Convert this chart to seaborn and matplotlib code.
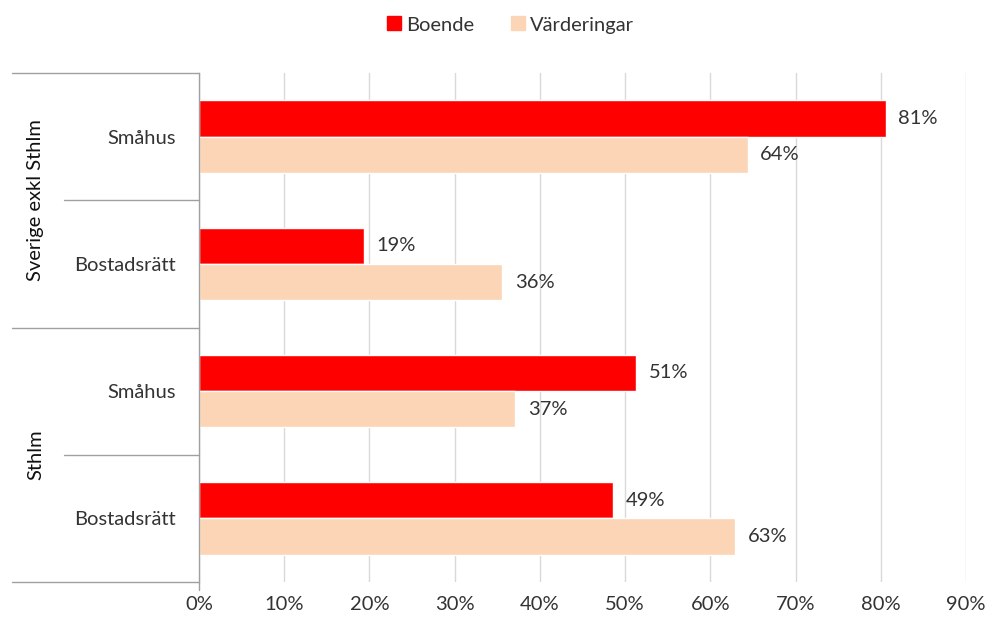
import matplotlib
matplotlib.use("Agg")
import matplotlib.pyplot as plt
import seaborn as sns
import pandas as pd
from matplotlib.lines import Line2D

groups = ["Sverige exkl Sthlm", "Sverige exkl Sthlm", "Sthlm", "Sthlm"]
subcats = ["Småhus", "Bostadsrätt", "Småhus", "Bostadsrätt"]
boende = [80.6, 19.4, 51.3, 48.6]
varderingar = [64.4, 35.6, 37.1, 62.9]
series_names = ["Boende", "Värderingar"]
colors = ["#FF0000", "#FBD5B5"]
xticks = [0, 10, 20, 30, 40, 50, 60, 70, 80, 90]

keys = [f"{g}|{s}" for g, s in zip(groups, subcats)]
df = pd.DataFrame({
    "key": keys * 2,
    "value": boende + varderingar,
    "series": [series_names[0]] * 4 + [series_names[1]] * 4,
})

sns.set_theme(style="white")
plt.rcParams["font.family"] = ["Lato", "DejaVu Sans"]
txt = "#333333"
fs = 14.5

fig = plt.figure(figsize=(9.88, 6.21), dpi=100)
ax = fig.add_axes([199 / 988, 1 - 582 / 621, (966 - 199) / 988, (582 - 73) / 621])

sns.barplot(data=df, y="key", x="value", hue="series", orient="h",
            palette=colors, order=keys, hue_order=series_names,
            width=0.57, saturation=1, ax=ax, legend=False)

ax.set_xlim(0, 90)
ax.set_ylim(3.5, -0.5)
ax.set_xticks(xticks)
ax.set_xticklabels([f"{t}%" for t in xticks], fontsize=fs, color=txt)
ax.set_yticklabels(subcats, fontsize=fs, color=txt)
ax.tick_params(axis="x", length=0, pad=10)
ax.tick_params(axis="y", length=0, pad=17)
ax.set_xlabel("")
ax.set_ylabel("")
ax.grid(axis="x", color="#D9D9D9", linewidth=1)
ax.set_axisbelow(True)
for s in ["top", "right", "bottom"]:
    ax.spines[s].set_visible(False)
ax.spines["left"].set_color("#A0A0A0")
ax.spines["left"].set_linewidth(1)

for cont in ax.containers:
    for bar in cont:
        w = bar.get_width()
        ax.annotate(f"{round(w):d}%", (w, bar.get_y() + bar.get_height() / 2),
                    xytext=(9, 0), textcoords="offset points",
                    va="center", ha="left", fontsize=fs, color=txt)

# category separators
lc = "#A0A0A0"
xfar = (12 - 199) / 767
xnear = (64 - 199) / 767
for y, x0 in [(0.0, xfar), (0.25, xnear), (0.5, xfar), (0.75, xnear), (1.0, xfar)]:
    ax.plot([x0, 0], [y, y], transform=ax.transAxes, color=lc, lw=1, clip_on=False)
ax.plot([0, 0], [0, -8 / 509], transform=ax.transAxes, color=lc, lw=1, clip_on=False)

# group labels
gx = (36 - 199) / 767
for yc, g in [(0.75, groups[0]), (0.25, groups[2])]:
    ax.text(gx, yc, g, transform=ax.transAxes, rotation=90, ha="center",
            va="center", fontsize=fs, color="#111111")

handles = [Line2D([0], [0], marker="s", linestyle="", markersize=10,
                  markerfacecolor=c, markeredgecolor=c) for c in colors]
fig.legend(handles, series_names, loc="center", bbox_to_anchor=(0.514, 1 - 25 / 621),
           ncol=2, frameon=False, fontsize=fs, handletextpad=0.0,
           handlelength=1.2, columnspacing=1.6, labelcolor=txt)

fig.savefig("out.png", dpi=100)
